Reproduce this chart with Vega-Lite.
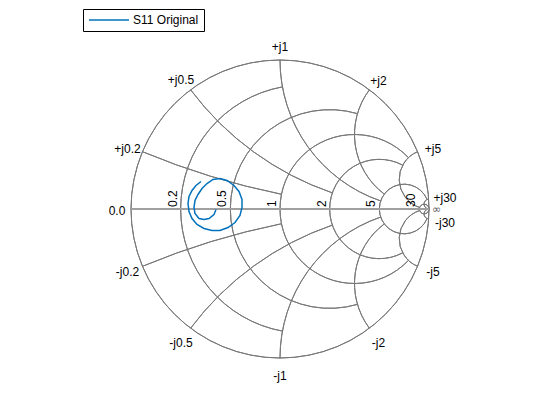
{
  "$schema": "https://vega.github.io/schema/vega-lite/v6.json",
  "width": 298,
  "height": 298,
  "autosize": {"type": "none"},
  "padding": {"left": 131, "top": 60, "right": 131, "bottom": 62},
  "config": {"view": {"stroke": null}, "font": "Liberation Sans"},
  "datasets": {
    "grid": [
      {"cx": 0, "cy": 0, "rad": 1, "t0": 0, "t1": 6.28319},
      {"cx": 0.16667, "cy": 0, "rad": 0.83333, "t0": -2.96034, "t1": -0.18125},
      {"cx": 0.33333, "cy": 0, "rad": 0.66667, "t0": -3.42765, "t1": 0.28606},
      {"cx": 0.5, "cy": 0, "rad": 0.5, "t0": -3.95138, "t1": 0.80979},
      {"cx": 0.66667, "cy": 0, "rad": 0.33333, "t0": -3.63155, "t1": 0.48996},
      {"cx": 0.83333, "cy": 0, "rad": 0.16667, "t0": -4.3176, "t1": 1.17601},
      {"cx": 0.96774, "cy": 0, "rad": 0.032258, "t0": 0, "t1": 6.28319},
      {"cx": 1, "cy": 5, "rad": 5, "t0": 3.34139, "t1": 3.53639},
      {"cx": 1, "cy": -5, "rad": 5, "t0": -0.3948, "t1": -0.1998},
      {"cx": 1, "cy": 2, "rad": 2, "t0": 3.47214, "t1": 4.06889},
      {"cx": 1, "cy": -2, "rad": 2, "t0": -0.9273, "t1": -0.33055},
      {"cx": 1, "cy": 1, "rad": 1, "t0": 3.47214, "t1": 4.71239},
      {"cx": 1, "cy": -1, "rad": 1, "t0": -1.5708, "t1": -0.33055},
      {"cx": 1, "cy": 0.5, "rad": 0.5, "t0": -2.49809, "t1": -0.9273},
      {"cx": 1, "cy": -0.5, "rad": 0.5, "t0": 4.06889, "t1": 5.63968},
      {"cx": 1, "cy": 0.2, "rad": 0.2, "t0": -2.82221, "t1": -0.3948},
      {"cx": 1, "cy": -0.2, "rad": 0.2, "t0": 3.53639, "t1": 5.9638},
      {"cx": 1, "cy": 0.033333, "rad": 0.033333, "t0": -3.14159, "t1": -0.06664},
      {"cx": 1, "cy": -0.033333, "rad": 0.033333, "t0": 3.20823, "t1": 6.28319}
    ],
    "axisline": [{"cx": -1, "cx2": 1, "cy": 0}],
    "s11": [
      {"i": 1, "cx": -0.4295, "cy": -0.0034, "s": "S11 Original"},
      {"i": 2, "cx": -0.443, "cy": -0.0369, "s": "S11 Original"},
      {"i": 3, "cx": -0.4765, "cy": -0.0638, "s": "S11 Original"},
      {"i": 4, "cx": -0.5101, "cy": -0.0705, "s": "S11 Original"},
      {"i": 5, "cx": -0.5436, "cy": -0.0638, "s": "S11 Original"},
      {"i": 6, "cx": -0.5705, "cy": -0.0302, "s": "S11 Original"},
      {"i": 7, "cx": -0.5772, "cy": 0.0101, "s": "S11 Original"},
      {"i": 8, "cx": -0.5705, "cy": 0.057, "s": "S11 Original"},
      {"i": 9, "cx": -0.5503, "cy": 0.0973, "s": "S11 Original"},
      {"i": 10, "cx": -0.5235, "cy": 0.1376, "s": "S11 Original"},
      {"i": 11, "cx": -0.4899, "cy": 0.1711, "s": "S11 Original"},
      {"i": 12, "cx": -0.4497, "cy": 0.198, "s": "S11 Original"},
      {"i": 13, "cx": -0.4027, "cy": 0.2047, "s": "S11 Original"},
      {"i": 14, "cx": -0.3557, "cy": 0.1913, "s": "S11 Original"},
      {"i": 15, "cx": -0.3087, "cy": 0.1577, "s": "S11 Original"},
      {"i": 16, "cx": -0.2752, "cy": 0.1174, "s": "S11 Original"},
      {"i": 17, "cx": -0.255, "cy": 0.0638, "s": "S11 Original"},
      {"i": 18, "cx": -0.255, "cy": 0.0101, "s": "S11 Original"},
      {"i": 19, "cx": -0.2685, "cy": -0.0436, "s": "S11 Original"},
      {"i": 20, "cx": -0.302, "cy": -0.0906, "s": "S11 Original"},
      {"i": 21, "cx": -0.349, "cy": -0.1242, "s": "S11 Original"},
      {"i": 22, "cx": -0.4027, "cy": -0.1443, "s": "S11 Original"},
      {"i": 23, "cx": -0.4564, "cy": -0.1443, "s": "S11 Original"},
      {"i": 24, "cx": -0.5101, "cy": -0.1309, "s": "S11 Original"},
      {"i": 25, "cx": -0.557, "cy": -0.104, "s": "S11 Original"},
      {"i": 26, "cx": -0.5906, "cy": -0.0638, "s": "S11 Original"},
      {"i": 27, "cx": -0.6107, "cy": -0.0168, "s": "S11 Original"},
      {"i": 28, "cx": -0.6174, "cy": 0.0369, "s": "S11 Original"},
      {"i": 29, "cx": -0.6107, "cy": 0.0839, "s": "S11 Original"},
      {"i": 30, "cx": -0.5906, "cy": 0.1242, "s": "S11 Original"},
      {"i": 31, "cx": -0.5638, "cy": 0.1577, "s": "S11 Original"},
      {"i": 32, "cx": -0.5302, "cy": 0.1846, "s": "S11 Original"}
    ],
    "xlabels": [
      {"cx": -1.0235, "cy": 0.4027, "t": "+j0.2"},
      {"cx": -0.6644, "cy": 0.8658, "t": "+j0.5"},
      {"cx": 0, "cy": 1.0872, "t": "+j1"},
      {"cx": 0.6611, "cy": 0.8591, "t": "+j2"},
      {"cx": 1.0268, "cy": 0.4027, "t": "+j5"},
      {"cx": 1.1074, "cy": 0.0738, "t": "+j30"},
      {"cx": 1.1074, "cy": -0.0973, "t": "-j30"},
      {"cx": 1.0268, "cy": -0.4228, "t": "-j5"},
      {"cx": 0.6611, "cy": -0.8993, "t": "-j2"},
      {"cx": 0, "cy": -1.1208, "t": "-j1"},
      {"cx": -0.6644, "cy": -0.8993, "t": "-j0.5"},
      {"cx": -1.0235, "cy": -0.4228, "t": "-j0.2"},
      {"cx": -1.094, "cy": -0.0134, "t": "0.0"}
    ],
    "inf": [{"cx": 1.0503, "cy": -0.01, "t": "∞"}],
    "rlabels": [
      {"cx": -0.66667, "cy": 0, "t": "0.2"},
      {"cx": -0.33333, "cy": 0, "t": "0.5"},
      {"cx": 0, "cy": 0, "t": "1"},
      {"cx": 0.33333, "cy": 0, "t": "2"},
      {"cx": 0.66667, "cy": 0, "t": "5"},
      {"cx": 0.93548, "cy": 0, "t": "30"}
    ]
  },
  "encoding": {
    "x": {"field": "cx", "type": "quantitative", "scale": {"domain": [-1, 1], "nice": false, "zero": false}, "axis": null},
    "y": {"field": "cy", "type": "quantitative", "scale": {"domain": [-1, 1], "nice": false, "zero": false}, "axis": null}
  },
  "layer": [
    {
      "data": {"name": "grid"},
      "mark": {"type": "arc", "filled": false, "stroke": "#787878", "strokeWidth": 1},
      "encoding": {
        "radius": {"field": "rad", "type": "quantitative", "scale": {"type": "linear", "domain": [0, 1], "range": [0, 149], "zero": true}},
        "radius2": {"field": "rad"},
        "theta": {"field": "t0", "type": "quantitative", "scale": null, "stack": null},
        "theta2": {"field": "t1"}
      }
    },
    {
      "data": {"name": "axisline"},
      "mark": {"type": "rule", "stroke": "#a0a0a0", "strokeWidth": 2},
      "encoding": {"x2": {"field": "cx2"}}
    },
    {
      "data": {"name": "s11"},
      "mark": {"type": "line", "strokeWidth": 1.5},
      "encoding": {
        "order": {"field": "i", "type": "quantitative"},
        "color": {
          "field": "s", "type": "nominal",
          "scale": {"domain": ["S11 Original"], "range": ["#0072BD"]},
          "legend": {
            "title": null, "orient": "none", "legendX": -48, "legendY": -51,
            "strokeColor": "#000000", "fillColor": "#ffffff", "padding": 5,
            "symbolType": "M-1,0H7", "symbolSize": 100, "symbolStrokeWidth": 1.5,
            "labelFontSize": 12, "labelFont": "Liberation Sans", "labelColor": "#000000",
            "labelOffset": 33, "cornerRadius": 0
          }
        }
      }
    },
    {
      "data": {"name": "xlabels"},
      "mark": {"type": "text", "fontSize": 12, "font": "Liberation Sans", "color": "#000000", "align": "center", "baseline": "middle"},
      "encoding": {"text": {"field": "t"}}
    },
    {
      "data": {"name": "inf"},
      "mark": {"type": "text", "fontSize": 11, "font": "DejaVu Sans", "color": "#606060", "align": "center", "baseline": "middle"},
      "encoding": {"text": {"field": "t"}}
    },
    {
      "data": {"name": "rlabels"},
      "mark": {"type": "text", "fontSize": 12, "font": "Liberation Sans", "color": "#000000", "angle": 270, "align": "left", "baseline": "bottom", "dx": 2, "dy": -1},
      "encoding": {"text": {"field": "t"}}
    }
  ]
}
